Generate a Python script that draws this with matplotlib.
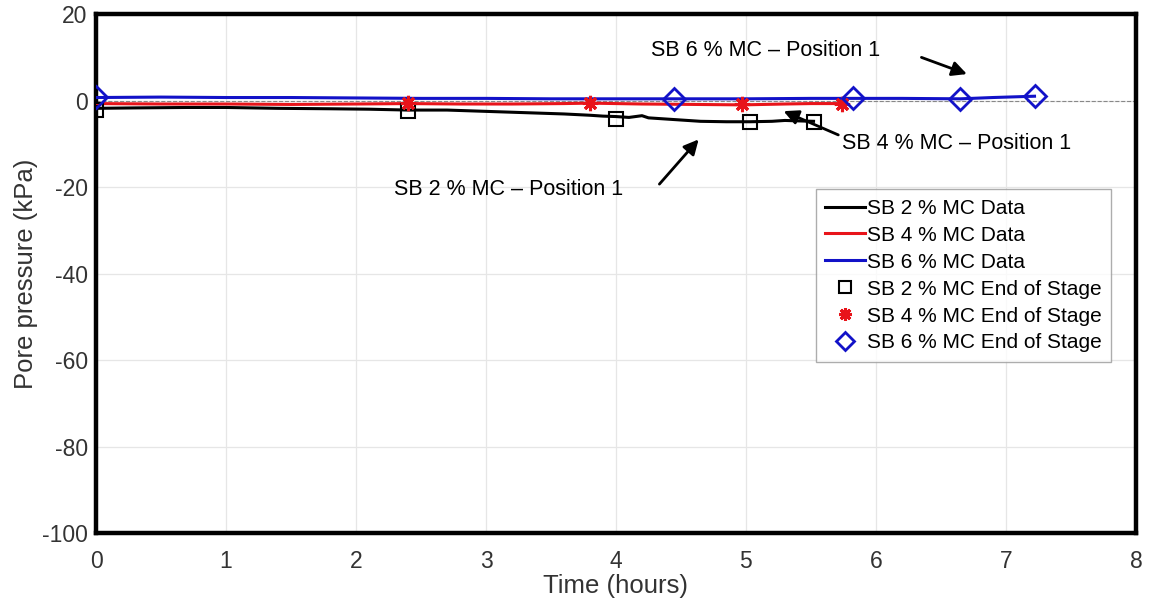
import matplotlib.pyplot as plt

plt.rcParams["font.family"] = ["Liberation Sans", "DejaVu Sans"]
plt.rcParams["axes.unicode_minus"] = False

# continuous pore pressure records (hours, kPa)
t_2 = [0.0, 0.3, 0.7, 1.0, 1.4, 1.8, 2.1, 2.4, 2.7, 3.0, 3.3, 3.6, 3.8, 3.9, 4.0, 4.1,
       4.2, 4.25, 4.3, 4.45, 4.65, 4.85, 5.03, 5.2, 5.3, 5.4, 5.52]
p_2 = [-1.8, -1.7, -1.6, -1.6, -1.8, -1.9, -2.0, -2.2, -2.2, -2.5, -2.8, -3.1, -3.4, -3.6,
       -3.7, -3.9, -3.5, -4.0, -4.1, -4.4, -4.8, -4.9, -4.9, -4.8, -4.6, -4.7, -4.8]

t_4 = [0.0, 0.5, 1.0, 1.5, 2.0, 2.4, 2.8, 3.2, 3.6, 3.8, 4.2, 4.6, 4.97, 5.3, 5.5, 5.74]
p_4 = [-0.7, -0.8, -0.8, -0.9, -0.8, -0.7, -0.8, -0.8, -0.7, -0.6, -0.8, -0.9, -1.0, -0.8,
       -0.7, -0.7]

t_6 = [0.0, 0.5, 1.0, 1.5, 2.0, 2.5, 3.0, 3.5, 4.0, 4.45, 5.0, 5.5, 5.82, 6.2, 6.65, 6.9, 7.22]
p_6 = [0.7, 0.8, 0.7, 0.7, 0.6, 0.5, 0.5, 0.4, 0.4, 0.4, 0.4, 0.5, 0.5, 0.5, 0.4, 0.7, 1.0]

# end-of-stage readings
end_t_2 = [0.0, 2.4, 4.0, 5.03, 5.52]
end_p_2 = [-2.2, -2.5, -4.2, -5.0, -4.9]
end_t_4 = [2.4, 3.8, 4.97, 5.74]
end_p_4 = [-0.6, -0.6, -0.9, -0.7]
end_t_6 = [0.0, 4.45, 5.82, 6.65, 7.22]
end_p_6 = [0.8, 0.3, 0.5, 0.3, 1.0]

fig = plt.figure(figsize=(11.49, 6.10), dpi=100)
ax = fig.add_axes([0.0836, 0.126, 0.905, 0.851])

ax.axhline(0, color="#888888", lw=0.8, ls="--", zorder=1)

ax.plot(t_2, p_2, color="black", lw=2.2, label="SB 2 % MC Data", zorder=3)
ax.plot(t_4, p_4, color="#e8141a", lw=2.2, label="SB 4 % MC Data", zorder=3)
ax.plot(t_6, p_6, color="#1212c8", lw=2.2, label="SB 6 % MC Data", zorder=3)
ax.plot(end_t_2, end_p_2, ls="none", marker="s", ms=10, mfc="none", mec="black", mew=1.5,
        label="SB 2 % MC End of Stage", zorder=4)
ax.plot(end_t_4, end_p_4, ls="none", marker=(8, 2, 0), ms=11, mec="#e8141a", mew=2.2,
        label="SB 4 % MC End of Stage", zorder=4)
ax.plot(end_t_6, end_p_6, ls="none", marker="D", ms=11, mfc="none", mec="#1212c8", mew=2,
        label="SB 6 % MC End of Stage", zorder=4)

arrow = dict(arrowstyle="-|>", color="black", lw=2, mutation_scale=22)
ax.annotate("", xy=(6.72, 5.9), xytext=(6.33, 10.2), arrowprops=arrow)
ax.annotate("", xy=(5.27, -2.2), xytext=(5.73, -8.2), arrowprops=arrow)
ax.annotate("", xy=(4.65, -8.5), xytext=(4.32, -19.8), arrowprops=arrow)
ax.text(5.15, 11.6, "SB 6 % MC \u2013 Position 1", fontsize=15.5, ha="center", va="center")
ax.text(6.62, -10.0, "SB 4 % MC \u2013 Position 1", fontsize=15.5, ha="center", va="center")
ax.text(3.17, -20.5, "SB 2 % MC \u2013 Position 1", fontsize=15.5, ha="center", va="center")

ax.set_xlim(0, 8)
ax.set_ylim(-100, 20)
ax.set_xticks(range(0, 9))
ax.set_yticks(range(-100, 21, 20))
ax.grid(True, color="#e6e6e6", lw=0.9)
ax.set_axisbelow(True)
ax.tick_params(labelsize=16.5, labelcolor="#333333", length=0)
ax.tick_params(axis="x", pad=12)
ax.tick_params(axis="y", pad=6)
for s in ax.spines.values():
    s.set_linewidth(3.2)
ax.set_xlabel("Time (hours)", fontsize=18.5, color="#333333", labelpad=1)
ax.set_ylabel("Pore pressure (kPa)", fontsize=18.5, color="#333333", labelpad=3)

leg = ax.legend(loc="upper right", bbox_to_anchor=(0.976, 0.662), fontsize=15,
                frameon=True, fancybox=False, edgecolor="#999999", handlelength=1.9,
                handletextpad=0.1, labelspacing=0.38, borderpad=0.45, borderaxespad=0,
                markerscale=0.85)
leg.get_frame().set_linewidth(1.0)

fig.savefig("out.png", dpi=100)
